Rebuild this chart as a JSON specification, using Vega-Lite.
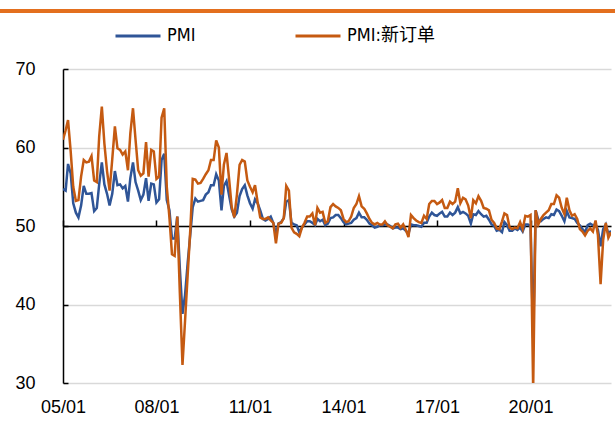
{
  "$schema": "https://vega.github.io/schema/vega-lite/v6.json",
  "width": 548,
  "height": 314,
  "autosize": {"type": "none"},
  "padding": {"left": 63, "top": 69, "right": 4, "bottom": 43},
  "background": "white",
  "config": {"view": {"stroke": null}, "font": "Liberation Sans"},
  "data": {"values": [
    {"d":"2005-01","pmi":54.7,"no":61.0},{"d":"2005-02","pmi":54.5,"no":62.2},{"d":"2005-03","pmi":57.9,"no":63.5},{"d":"2005-04","pmi":56.7,"no":59.5},{"d":"2005-05","pmi":52.9,"no":55.0},{"d":"2005-06","pmi":51.7,"no":53.2},{"d":"2005-07","pmi":51.1,"no":53.3},{"d":"2005-08","pmi":52.6,"no":56.3},{"d":"2005-09","pmi":55.1,"no":58.4},{"d":"2005-10","pmi":54.1,"no":58.1},{"d":"2005-11","pmi":54.1,"no":58.2},{"d":"2005-12","pmi":54.2,"no":58.9},
    {"d":"2006-01","pmi":51.9,"no":55.8},{"d":"2006-02","pmi":52.3,"no":55.6},{"d":"2006-03","pmi":55.3,"no":61.4},{"d":"2006-04","pmi":58.1,"no":65.2},{"d":"2006-05","pmi":55.3,"no":60.5},{"d":"2006-06","pmi":54.1,"no":57.0},{"d":"2006-07","pmi":52.6,"no":54.5},{"d":"2006-08","pmi":54.1,"no":58.5},{"d":"2006-09","pmi":57.0,"no":62.7},{"d":"2006-10","pmi":55.2,"no":59.9},{"d":"2006-11","pmi":55.3,"no":59.7},{"d":"2006-12","pmi":54.8,"no":59.1},
    {"d":"2007-01","pmi":55.1,"no":59.5},{"d":"2007-02","pmi":53.1,"no":57.1},{"d":"2007-03","pmi":56.1,"no":61.8},{"d":"2007-04","pmi":58.1,"no":65.0},{"d":"2007-05","pmi":55.6,"no":61.0},{"d":"2007-06","pmi":54.5,"no":57.1},{"d":"2007-07","pmi":53.3,"no":56.4},{"d":"2007-08","pmi":54.0,"no":56.7},{"d":"2007-09","pmi":56.1,"no":60.7},{"d":"2007-10","pmi":53.2,"no":56.3},{"d":"2007-11","pmi":55.4,"no":59.7},{"d":"2007-12","pmi":55.3,"no":59.5},
    {"d":"2008-01","pmi":53.0,"no":56.0},{"d":"2008-02","pmi":53.4,"no":56.3},{"d":"2008-03","pmi":58.4,"no":63.8},{"d":"2008-04","pmi":59.2,"no":65.0},{"d":"2008-05","pmi":53.3,"no":55.0},{"d":"2008-06","pmi":52.0,"no":51.1},{"d":"2008-07","pmi":48.4,"no":46.4},{"d":"2008-08","pmi":48.4,"no":46.2},{"d":"2008-09","pmi":51.2,"no":51.2},{"d":"2008-10","pmi":44.6,"no":41.5},{"d":"2008-11","pmi":38.8,"no":32.3},{"d":"2008-12","pmi":41.2,"no":37.9},
    {"d":"2009-01","pmi":45.3,"no":43.8},{"d":"2009-02","pmi":49.0,"no":49.6},{"d":"2009-03","pmi":52.4,"no":56.0},{"d":"2009-04","pmi":53.5,"no":55.9},{"d":"2009-05","pmi":53.1,"no":55.4},{"d":"2009-06","pmi":53.2,"no":55.5},{"d":"2009-07","pmi":53.3,"no":56.0},{"d":"2009-08","pmi":54.0,"no":56.6},{"d":"2009-09","pmi":54.3,"no":57.1},{"d":"2009-10","pmi":55.2,"no":58.4},{"d":"2009-11","pmi":55.2,"no":58.4},{"d":"2009-12","pmi":56.6,"no":60.9},
    {"d":"2010-01","pmi":55.8,"no":60.0},{"d":"2010-02","pmi":52.0,"no":54.0},{"d":"2010-03","pmi":55.1,"no":57.8},{"d":"2010-04","pmi":55.7,"no":59.3},{"d":"2010-05","pmi":53.9,"no":56.0},{"d":"2010-06","pmi":52.1,"no":52.4},{"d":"2010-07","pmi":51.2,"no":51.1},{"d":"2010-08","pmi":51.7,"no":54.0},{"d":"2010-09","pmi":53.8,"no":57.8},{"d":"2010-10","pmi":54.7,"no":58.4},{"d":"2010-11","pmi":55.2,"no":58.2},{"d":"2010-12","pmi":53.9,"no":55.8},
    {"d":"2011-01","pmi":52.9,"no":55.0},{"d":"2011-02","pmi":52.2,"no":54.3},{"d":"2011-03","pmi":53.4,"no":55.2},{"d":"2011-04","pmi":52.9,"no":53.0},{"d":"2011-05","pmi":52.0,"no":51.1},{"d":"2011-06","pmi":50.9,"no":50.9},{"d":"2011-07","pmi":50.7,"no":50.9},{"d":"2011-08","pmi":50.9,"no":51.1},{"d":"2011-09","pmi":51.2,"no":50.7},{"d":"2011-10","pmi":50.4,"no":50.4},{"d":"2011-11","pmi":49.0,"no":47.8},{"d":"2011-12","pmi":50.3,"no":50.3},
    {"d":"2012-01","pmi":50.5,"no":50.4},{"d":"2012-02","pmi":51.0,"no":51.0},{"d":"2012-03","pmi":53.1,"no":55.1},{"d":"2012-04","pmi":53.3,"no":54.5},{"d":"2012-05","pmi":50.4,"no":49.8},{"d":"2012-06","pmi":50.2,"no":49.2},{"d":"2012-07","pmi":50.1,"no":49.0},{"d":"2012-08","pmi":49.2,"no":48.7},{"d":"2012-09","pmi":49.8,"no":49.8},{"d":"2012-10","pmi":50.2,"no":50.4},{"d":"2012-11","pmi":50.6,"no":51.2},{"d":"2012-12","pmi":50.6,"no":51.2},
    {"d":"2013-01","pmi":50.4,"no":51.6},{"d":"2013-02","pmi":50.1,"no":50.1},{"d":"2013-03","pmi":50.9,"no":52.3},{"d":"2013-04","pmi":50.6,"no":51.7},{"d":"2013-05","pmi":50.8,"no":51.8},{"d":"2013-06","pmi":50.1,"no":50.4},{"d":"2013-07","pmi":50.3,"no":50.6},{"d":"2013-08","pmi":51.0,"no":52.4},{"d":"2013-09","pmi":51.1,"no":52.8},{"d":"2013-10","pmi":51.4,"no":52.5},{"d":"2013-11","pmi":51.4,"no":52.3},{"d":"2013-12","pmi":51.0,"no":52.0},
    {"d":"2014-01","pmi":50.5,"no":50.9},{"d":"2014-02","pmi":50.2,"no":50.5},{"d":"2014-03","pmi":50.3,"no":50.6},{"d":"2014-04","pmi":50.4,"no":51.2},{"d":"2014-05","pmi":50.8,"no":52.3},{"d":"2014-06","pmi":51.0,"no":52.8},{"d":"2014-07","pmi":51.7,"no":53.8},{"d":"2014-08","pmi":51.1,"no":52.5},{"d":"2014-09","pmi":51.1,"no":52.2},{"d":"2014-10","pmi":50.8,"no":51.6},{"d":"2014-11","pmi":50.3,"no":50.9},{"d":"2014-12","pmi":50.1,"no":50.4},
    {"d":"2015-01","pmi":49.8,"no":50.2},{"d":"2015-02","pmi":49.9,"no":50.4},{"d":"2015-03","pmi":50.1,"no":50.2},{"d":"2015-04","pmi":50.1,"no":50.2},{"d":"2015-05","pmi":50.2,"no":50.6},{"d":"2015-06","pmi":50.2,"no":50.1},{"d":"2015-07","pmi":50.0,"no":49.9},{"d":"2015-08","pmi":49.7,"no":49.7},{"d":"2015-09","pmi":49.8,"no":50.2},{"d":"2015-10","pmi":49.8,"no":50.3},{"d":"2015-11","pmi":49.6,"no":49.8},{"d":"2015-12","pmi":49.7,"no":50.2},
    {"d":"2016-01","pmi":49.4,"no":49.5},{"d":"2016-02","pmi":49.0,"no":48.6},{"d":"2016-03","pmi":50.2,"no":51.4},{"d":"2016-04","pmi":50.1,"no":51.0},{"d":"2016-05","pmi":50.1,"no":50.7},{"d":"2016-06","pmi":50.0,"no":50.5},{"d":"2016-07","pmi":49.9,"no":50.4},{"d":"2016-08","pmi":50.4,"no":51.3},{"d":"2016-09","pmi":50.4,"no":50.9},{"d":"2016-10","pmi":51.2,"no":52.8},{"d":"2016-11","pmi":51.7,"no":53.2},{"d":"2016-12","pmi":51.4,"no":53.2},
    {"d":"2017-01","pmi":51.3,"no":52.8},{"d":"2017-02","pmi":51.6,"no":53.0},{"d":"2017-03","pmi":51.8,"no":53.3},{"d":"2017-04","pmi":51.2,"no":52.3},{"d":"2017-05","pmi":51.2,"no":52.3},{"d":"2017-06","pmi":51.7,"no":53.1},{"d":"2017-07","pmi":51.4,"no":52.8},{"d":"2017-08","pmi":51.7,"no":53.1},{"d":"2017-09","pmi":52.4,"no":54.8},{"d":"2017-10","pmi":51.6,"no":52.9},{"d":"2017-11","pmi":51.8,"no":53.6},{"d":"2017-12","pmi":51.6,"no":53.4},
    {"d":"2018-01","pmi":51.3,"no":52.6},{"d":"2018-02","pmi":50.3,"no":51.0},{"d":"2018-03","pmi":51.5,"no":53.3},{"d":"2018-04","pmi":51.4,"no":52.9},{"d":"2018-05","pmi":51.9,"no":53.8},{"d":"2018-06","pmi":51.5,"no":53.2},{"d":"2018-07","pmi":51.2,"no":52.3},{"d":"2018-08","pmi":51.3,"no":52.2},{"d":"2018-09","pmi":50.8,"no":52.0},{"d":"2018-10","pmi":50.2,"no":50.8},{"d":"2018-11","pmi":50.0,"no":50.4},{"d":"2018-12","pmi":49.4,"no":49.7},
    {"d":"2019-01","pmi":49.5,"no":49.6},{"d":"2019-02","pmi":49.2,"no":50.6},{"d":"2019-03","pmi":50.5,"no":51.6},{"d":"2019-04","pmi":50.1,"no":51.4},{"d":"2019-05","pmi":49.4,"no":49.8},{"d":"2019-06","pmi":49.4,"no":49.6},{"d":"2019-07","pmi":49.7,"no":49.8},{"d":"2019-08","pmi":49.5,"no":49.7},{"d":"2019-09","pmi":49.8,"no":50.5},{"d":"2019-10","pmi":49.3,"no":49.6},{"d":"2019-11","pmi":50.2,"no":51.3},{"d":"2019-12","pmi":50.2,"no":51.2},
    {"d":"2020-01","pmi":50.0,"no":51.4},{"d":"2020-02","pmi":35.7,"no":29.3},{"d":"2020-03","pmi":52.0,"no":52.0},{"d":"2020-04","pmi":50.8,"no":50.2},{"d":"2020-05","pmi":50.6,"no":50.9},{"d":"2020-06","pmi":50.9,"no":51.4},{"d":"2020-07","pmi":51.1,"no":51.7},{"d":"2020-08","pmi":51.0,"no":52.0},{"d":"2020-09","pmi":51.5,"no":52.8},{"d":"2020-10","pmi":51.4,"no":52.8},{"d":"2020-11","pmi":52.1,"no":53.9},{"d":"2020-12","pmi":51.9,"no":53.6},
    {"d":"2021-01","pmi":51.3,"no":52.3},{"d":"2021-02","pmi":50.6,"no":51.5},{"d":"2021-03","pmi":51.9,"no":53.6},{"d":"2021-04","pmi":51.1,"no":52.0},{"d":"2021-05","pmi":51.0,"no":51.3},{"d":"2021-06","pmi":50.9,"no":51.5},{"d":"2021-07","pmi":50.4,"no":50.9},{"d":"2021-08","pmi":50.1,"no":49.6},{"d":"2021-09","pmi":49.6,"no":49.3},{"d":"2021-10","pmi":49.2,"no":48.8},{"d":"2021-11","pmi":50.1,"no":49.4},{"d":"2021-12","pmi":50.3,"no":49.7},
    {"d":"2022-01","pmi":50.1,"no":49.3},{"d":"2022-02","pmi":50.2,"no":50.7},{"d":"2022-03","pmi":49.5,"no":48.8},{"d":"2022-04","pmi":47.4,"no":42.6},{"d":"2022-05","pmi":49.6,"no":48.2},{"d":"2022-06","pmi":50.2,"no":50.4},{"d":"2022-07","pmi":49.0,"no":48.5},{"d":"2022-08","pmi":49.4,"no":49.2}
  ]},
  "layer": [
    {
      "mark": {"type": "line", "strokeWidth": 2.5, "clip": true},
      "encoding": {
        "x": {
          "field": "d", "type": "temporal", "title": null,
          "scale": {"type": "utc", "domain": [{"year": 2005, "month": 1, "date": 1, "utc": true}, {"year": 2022, "month": 8, "date": 1, "utc": true}]},
          "axis": {
            "values": [
              {"year": 2005, "month": 1, "date": 1, "utc": true},
              {"year": 2008, "month": 1, "date": 1, "utc": true},
              {"year": 2011, "month": 1, "date": 1, "utc": true},
              {"year": 2014, "month": 1, "date": 1, "utc": true},
              {"year": 2017, "month": 1, "date": 1, "utc": true},
              {"year": 2020, "month": 1, "date": 1, "utc": true}
            ],
            "format": "%y/%m",
            "offset": -157,
            "domainColor": "#000000", "domainWidth": 1.5,
            "tickColor": "#000000", "tickSize": -6, "tickWidth": 1.5,
            "labelPadding": 178, "labelFontSize": 18, "labelColor": "#000000",
            "labelFlush": false, "labelOverlap": false, "labelBound": false,
            "grid": false
          }
        },
        "y": {
          "field": "pmi", "type": "quantitative", "title": null,
          "scale": {"domain": [30, 70], "nice": false, "zero": false},
          "axis": {
            "values": [30, 40, 50, 60, 70],
            "grid": true, "gridColor": "#D9D9D9", "gridWidth": 1.5,
            "domainColor": "#000000", "domainWidth": 1.5,
            "tickColor": "#000000", "tickSize": -5, "tickWidth": 1.5,
            "labelPadding": 33, "labelFontSize": 18, "labelColor": "#000000"
          }
        },
        "color": {
          "datum": "PMI", "type": "nominal",
          "scale": {"domain": ["PMI", "PMI:新订单"], "range": ["#2F5597", "#C55A11"]},
          "legend": {
            "orient": "none", "legendX": 51, "legendY": -57,
            "direction": "horizontal", "title": null,
            "symbolType": "stroke", "symbolSize": 2025, "symbolStrokeWidth": 3,
            "labelFontSize": 18, "labelFont": "DejaVu Sans Condensed, Noto Sans CJK SC",
            "labelColor": "#000000", "columnPadding": 93, "labelOffset": 5, "padding": 0
          }
        }
      }
    },
    {
      "mark": {"type": "line", "strokeWidth": 2.5, "clip": true},
      "encoding": {
        "x": {"field": "d", "type": "temporal"},
        "y": {"field": "no", "type": "quantitative"},
        "color": {"datum": "PMI:新订单", "type": "nominal"}
      }
    },
    {
      "data": {"values": [{"k": 0}]},
      "mark": {"type": "rule", "color": "#E36F1E", "strokeWidth": 4, "clip": false},
      "encoding": {
        "x": {"datum": {"year": 2002, "month": 12, "date": 20, "utc": true}, "type": "temporal"},
        "x2": {"datum": {"year": 2022, "month": 9, "date": 20, "utc": true}},
        "y": {"datum": 77.4, "type": "quantitative"}
      }
    }
  ]
}
